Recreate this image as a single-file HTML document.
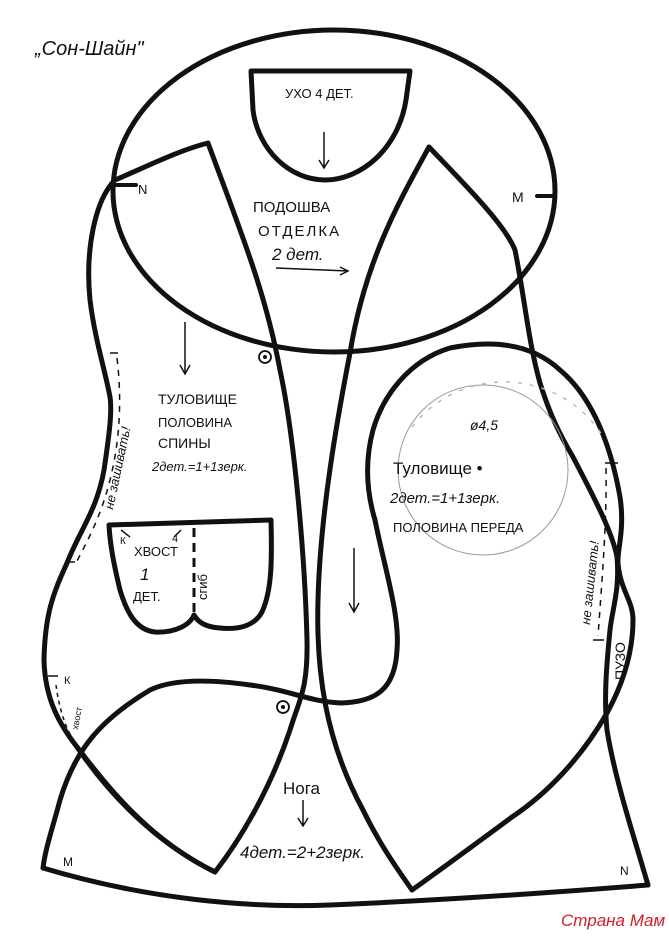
<!DOCTYPE html>
<html><head><meta charset="utf-8"><style>
html,body{margin:0;padding:0;background:#fff;}
svg{display:block}
text{font-family:"Liberation Sans","DejaVu Sans",sans-serif;fill:#111}
</style></head><body>
<svg width="669" height="937" viewBox="0 0 669 937" xmlns="http://www.w3.org/2000/svg">
<rect width="669" height="937" fill="#fff"/>
<g fill="none" stroke="#111" stroke-width="5" stroke-linecap="round" stroke-linejoin="round">
<ellipse cx="334" cy="191" rx="221" ry="161"/>
<path d="M251,71 L410,71 L406,100 C398,150 360,180 325,180 C290,180 258,150 253,110 Z"/>
<!-- back torso -->
<path d="M115,180 C150,165 180,150 208,143 C240,230 265,290 280,370 C295,440 305,560 307,640 C308,690 299,700 290,730 C270,790 240,840 215,872 C170,850 120,810 77,747 C60,725 45,700 44,660 C45,610 55,590 67,563 C80,530 97,510 104,470 C110,430 112,410 110,397 C105,370 95,340 90,300 C85,250 95,200 115,180"/>
<!-- front torso left edge -->
<path d="M429,147 C400,200 365,260 350,353 C335,430 320,520 318,600 C316,670 325,740 363,810 C380,845 398,870 412,890"/>
<!-- front torso right edge -->
<path d="M429,147 C470,190 505,225 515,250 C525,300 528,340 540,383 C550,415 560,435 573,457 C590,490 612,530 617,557 C620,590 612,610 610,630 C606,670 604,700 607,730 C615,780 635,840 648,885"/>
<!-- oval -->
<path d="M375,520 C366,490 365,460 373,430 C383,395 410,360 450,348 C490,340 530,342 560,370 C590,395 610,440 620,497 C625,530 617,550 618,563 C620,590 633,600 633,620 C633,650 625,680 607,713 C580,760 545,795 512,817 C470,848 440,870 412,890"/>
<path d="M375,520 C385,570 400,615 397,650 C395,690 375,702 341,703 C310,702 290,690 250,685 C215,680 175,678 150,690 C100,720 75,750 60,800 C52,830 45,850 43,868"/>
<path d="M77,747 C110,790 150,840 215,872"/>
<path d="M43,868 C150,900 250,908 330,905 C450,900 560,892 648,885"/>
<path d="M109,525 L271,520 C272,560 272,590 262,612 C255,625 240,630 220,628 C205,627 198,622 194,615 C190,625 175,633 155,632 C135,630 126,610 120,590 C114,565 110,545 109,525 Z"/>
<path d="M115,185 L136,185 M537,196 L555,196" stroke-width="4"/>
</g>
<g fill="none" stroke="#111" stroke-width="1.5">
<path d="M324,132 L324,168 M319,160 L324,168 L329,160"/>
<path d="M276,268 L348,271 M340,267 L348,271 L340,275"/>
<path d="M185,322 L185,374 M180,365 L185,374 L190,365"/>
<path d="M354,548 L354,612 M349,603 L354,612 L359,603"/>
<path d="M303,800 L303,826 M298,818 L303,826 L308,818"/>
<path d="M110,353 L118,353 M67,562 L75,562 M48,676 L58,676 M605,463 L618,463 M593,640 L604,640"/>
<path d="M117,358 C122,400 120,440 110,480 C100,520 85,545 75,565" stroke-dasharray="6,6"/>
<path d="M56,685 C58,700 62,720 72,738" stroke-dasharray="4,4"/>
<path d="M606,468 C607,520 602,580 598,636" stroke-dasharray="6,6"/>
<path d="M130,537 L121,530 M174,537 L181,530"/>
</g>
<circle cx="483" cy="470" r="85" fill="none" stroke="#999" stroke-width="1"/>
<path d="M412,427 A115,112 0 0 1 605,440" fill="none" stroke="#bbb" stroke-width="1.5" stroke-dasharray="4,8"/>
<path d="M194,528 L194,615" stroke="#111" stroke-width="3" stroke-dasharray="9,6"/>
<circle cx="265" cy="357" r="6" fill="none" stroke="#111" stroke-width="1.8"/><circle cx="265" cy="357" r="2" fill="#111"/>
<circle cx="283" cy="707" r="6" fill="none" stroke="#111" stroke-width="1.8"/><circle cx="283" cy="707" r="2" fill="#111"/>
<text x="35" y="55" font-size="20" font-style="italic" font-family="Liberation Serif,serif">„Сон-Шайн"</text>
<text x="285" y="98" font-size="13">УХО  4 ДЕТ.</text>
<text x="253" y="212" font-size="15">ПОДОШВА</text>
<text x="258" y="236" font-size="15" letter-spacing="2">ОТДЕЛКА</text>
<text x="272" y="260" font-size="17" font-style="italic">2 дет.</text>
<text x="138" y="194" font-size="13">N</text>
<text x="512" y="202" font-size="14">M</text>
<text x="158" y="404" font-size="14">ТУЛОВИЩЕ</text>
<text x="158" y="427" font-size="13">ПОЛОВИНА</text>
<text x="158" y="448" font-size="14">СПИНЫ</text>
<text x="152" y="471" font-size="13" font-style="italic">2дет.=1+1зерк.</text>
<text x="470" y="430" font-size="14" fill="#777" font-style="italic">ø4,5</text>
<text x="393" y="474" font-size="17">Туловище •</text>
<text x="390" y="503" font-size="15" font-style="italic">2дет.=1+1зерк.</text>
<text x="393" y="532" font-size="13">ПОЛОВИНА ПЕРЕДА</text>
<text font-size="13" font-style="italic" transform="translate(113,510) rotate(-78)">не зашивать!</text>
<text font-size="13" font-style="italic" transform="translate(590,625) rotate(-84)">не зашивать!</text>
<text font-size="14" transform="translate(625,680) rotate(-90)">ПУЗО</text>
<text x="120" y="544" font-size="10">К</text>
<text x="172" y="542" font-size="11">4</text>
<text x="134" y="556" font-size="13">ХВОСТ</text>
<text x="140" y="580" font-size="17" font-style="italic">1</text>
<text x="133" y="601" font-size="13">ДЕТ.</text>
<text font-size="13" transform="translate(207,600) rotate(-90)">сгиб</text>
<text x="64" y="684" font-size="11">К</text>
<text font-size="9" transform="translate(78,730) rotate(-80)">хвост</text>
<text x="283" y="794" font-size="17">Нога</text>
<text x="240" y="858" font-size="17" font-style="italic">4дет.=2+2зерк.</text>
<text x="63" y="866" font-size="12">M</text>
<text x="620" y="875" font-size="12">N</text>
<text x="561" y="926" font-size="17" font-style="italic" font-family="Liberation Serif,serif" style="fill:#d0202a">Страна Мам</text>
</svg>
</body></html>
